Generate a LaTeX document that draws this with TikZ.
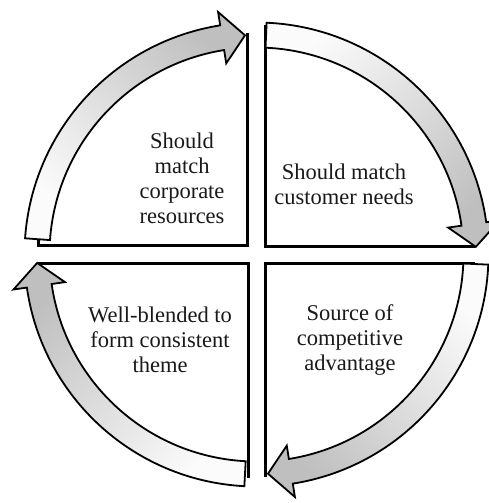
\documentclass[tikz,border=0pt]{standalone}
\usepackage{fontspec}
\setmainfont{Liberation Serif}
\newcommand\qarrow[3]{%
  \pgfmathsetmacro\hb{#2+6}%
  \path[arrowband, top color=gray!50, bottom color=white!97!gray, shading angle=#3]
    (#1:232pt) arc[start angle=#1, end angle=\hb, radius=232pt]
    -- (\hb:245.5pt) -- (#2:219.5pt) -- (\hb:193.5pt) -- (\hb:207pt)
    arc[start angle=\hb, end angle=#1, radius=207pt] -- cycle;
}
\begin{document}
\begin{tikzpicture}[
  boxline/.style={line width=3pt, line join=miter},
  arrowband/.style={draw=black, line width=1.8pt, line join=miter},
  quadtext/.style={font=\fontsize{22.5}{25}\selectfont, align=center, inner sep=0pt, text=black!90}
]
\useasboundingbox (0pt,-503pt) rectangle (489pt,0pt);

% quadrant boxes (L-shaped borders)
\draw[boxline] (38pt,-240pt) -- (38pt,-245.5pt) -- (247pt,-245.5pt) -- (247pt,-33pt);
\draw[boxline] (265.5pt,-25pt) -- (265.5pt,-246pt) -- (475pt,-246pt);
\draw[boxline] (475pt,-263pt) -- (265.5pt,-263pt) -- (265.5pt,-477pt);
\draw[boxline] (38pt,-263pt) -- (248pt,-263pt) -- (248pt,-478pt);

% curved arrows
\begin{scope}[shift={(256.5pt,-254.5pt)}]
  \qarrow{176}{93}{-45}
  \qarrow{87.5}{2}{-135}
  \qarrow{-2.5}{-87}{135}
  \qarrow{-93}{-177.8}{45}
\end{scope}

% texts
\node[quadtext] (tl) at (182pt,-178pt) {Should\\match\\corporate\\resources};
\node[quadtext] (tr) at (344pt,-184pt) {Should match\\customer needs};
\node[quadtext] (bl) at (160pt,-340pt) {Well-blended to\\form consistent\\theme};
\node[quadtext] (br) at (350pt,-340pt) {Source of\\competitive\\advantage};
\end{tikzpicture}
\end{document}
